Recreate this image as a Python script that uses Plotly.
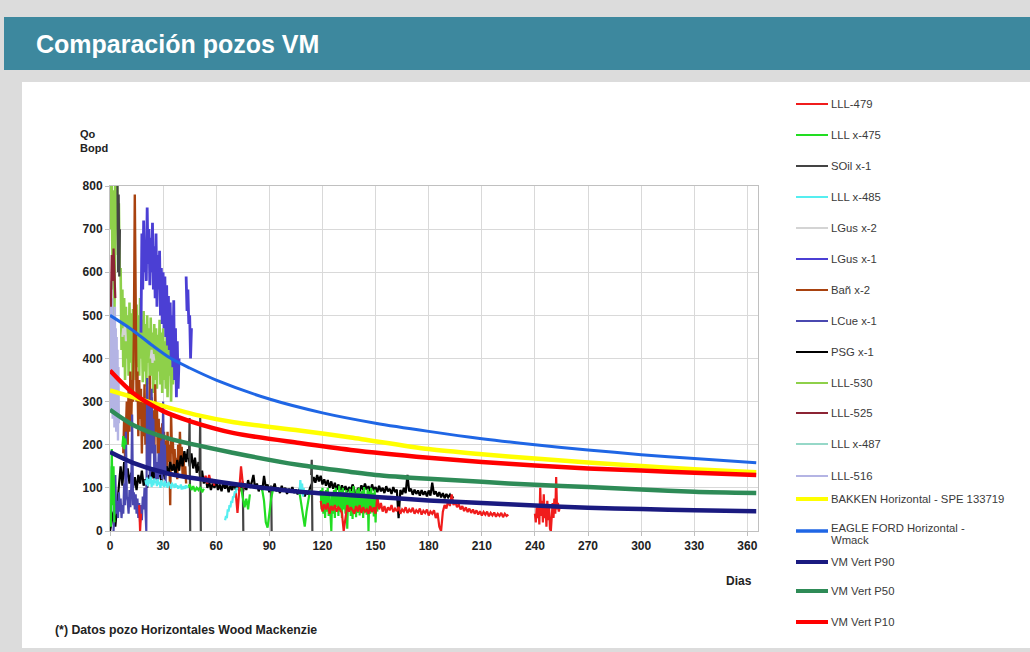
import plotly.graph_objects as go

W, H = 1030, 652
FONT = "Liberation Sans, Arial, sans-serif"

# ---------------- data ----------------
# smooth type curves (days, Qo bopd)
EAGLE_days = [0, 12, 24, 34, 45, 60, 90, 120, 150, 180, 210, 240, 270, 300, 330, 365]
EAGLE_q = [500, 468, 430, 401, 378, 350, 306, 274, 250, 231, 214, 200, 188, 177, 168, 158]
BAKKEN_days = [0, 30, 50, 70, 107, 136, 180, 210, 240, 270, 300, 330, 365]
BAKKEN_q = [326, 290, 268, 252, 233, 217, 190, 178, 168, 159, 151, 143, 136]
P10_days = [0, 13, 30, 45, 70, 107, 136, 180, 210, 240, 270, 300, 330, 365]
P10_q = [372, 320, 278, 255, 227, 204, 188, 170, 160, 152, 145, 140, 135, 130]
P50_days = [0, 13, 32, 70, 107, 136, 150, 180, 210, 240, 270, 300, 330, 365]
P50_q = [281, 246, 216, 181, 153, 137, 130, 121, 114, 107, 102, 96, 91, 88]
P90_days = [0, 13, 32, 70, 107, 136, 150, 180, 210, 240, 270, 300, 330, 365]
P90_q = [183, 158, 134, 109, 91, 83, 79, 71, 65, 59, 54, 51, 48, 46]

# well production records: segments of (first day, day step, daily Qo values)
LLL530_seg = [(0, 0.5, [820, 700, 820, 560, 790, 480, 810, 700, 820, 640, 760, 590, 610, 420, 560, 380,
                        540, 350, 520, 400, 500, 360, 530, 390, 505, 340, 515, 420, 470, 350, 525, 380,
                        500, 360, 540, 400, 490, 345, 510, 370, 480, 335, 500, 390, 470, 340, 495, 360,
                        460, 320, 480, 350, 470, 330, 455, 370, 490, 340, 460, 320, 470, 350, 440, 330,
                        455, 310, 430, 360, 440, 300, 420, 340, 380])]
LGUS2_seg = [(7, 0.5, [450, 470, 455, 480, 440]), (23, 0.5, [400, 420, 390, 410, 395])]
LLL516_seg = [(0, 0.25, [300, 560, 280, 580, 320, 540, 260, 500, 300, 480, 240, 520, 290, 470, 230,
                         450, 280, 420, 210, 380, 250])]
LLL525_seg = [(0.5, 0.5, [520, 640, 580, 655, 600, 540])]
LLL487_seg = [(0, 0.25, [0, 90, 20, 150, 60, 120, 30])]
BAN2_seg = [(7.5, 0.5, [180, 260, 170, 240, 300, 200, 330, 230, 370, 250, 350, 300, 460, 780, 470, 300,
                        370, 220, 350, 260, 330, 180, 300, 220, 340, 200, 280, 160, 300, 220, 360, 250,
                        310, 200, 280, 170, 340, 230, 290, 180, 260, 160, 240, 190, 250, 150, 230, 170,
                        210, 140, 230, 160, 200, 60, 270, 180, 210, 140, 190, 130, 170, 120, 200, 140,
                        230, 150, 195, 130, 180, 125, 150, 110])]
LGUS1_seg = [(17.5, 0.5, [460, 690, 560, 720, 600, 660, 580, 750, 620, 700, 570, 680, 600, 715, 560, 660,
                          540, 690, 520, 640, 560, 650, 500, 610, 480, 600, 470, 590, 450, 570, 430, 545,
                          420, 530, 400, 500, 380, 535, 350, 470, 310, 440, 330, 400]),
             (43, 0.5, [590, 510, 560, 480, 500, 400, 470])]
PSG1_seg = [(0, 1, [0, 20, 45, 10, 60, 120, 150, 105, 160, 120, 145, 110, 135, 100, 125, 95, 130, 110, 140,
                    105, 120, 100, 130, 115, 140, 120, 150, 125, 135, 115, 145, 120, 150, 130, 160, 140,
                    155, 130, 165, 140, 175, 150, 185, 160, 190, 150, 180, 145, 170, 135, 160, 120, 140,
                    110, 125, 100, 115, 95, 110, 100, 115, 95, 108, 92, 112, 98, 110, 90, 105, 95, 112,
                    96, 108, 92, 104, 88, 110, 95, 118, 100, 112, 130, 98, 110, 92, 106, 94, 128, 100,
                    108, 90, 104, 95, 110, 92, 100, 88, 105, 92, 100, 86, 98, 90, 102, 88, 96, 85, 98,
                    88, 95, 80, 92, 85, 100, 110, 125, 112, 130, 115, 128, 108, 120, 105, 118, 100, 115,
                    98, 112, 95, 108, 92, 106, 95, 104, 90, 102, 92, 108, 95, 65, 100, 92, 106, 95, 110,
                    96, 104, 90, 108, 94, 102, 90, 105, 92, 100, 88, 104, 92, 98, 86, 102, 90, 96, 30,
                    95, 85, 100, 88, 130, 92, 98, 84, 96, 86, 94, 82, 95, 84, 92, 80, 94, 82, 112, 85,
                    92, 80, 90, 78, 88, 76, 86, 78, 84, 76, 80])]
LCUE1_seg = [(2, 0.5, [0, 60, 130, 40, 70, 30, 90, 45, 75, 30, 60, 40, 110, 60, 230, 80, 70, 40, 95, 55,
                       100, 270, 60, 90, 50, 85, 40, 75, 30, 65, 20, 60, 25, 80, 50, 100, 30, 0, 355, 150,
                       300, 120, 220, 330, 180, 260, 140, 200, 120, 160, 110, 180, 130, 150, 210, 120,
                       300, 140, 200, 110])]
SOIL1_seg = [(4.2, 0.35, [820, 600, 780, 590, 700]),
             (44.6, 0.35, [170, 262, 0]), (50.6, 0.35, [150, 262, 0]),
             (74.7, 0.3, [110, 115, 0]), (90.7, 0.3, [100, 105, 0]), (113.6, 0.35, [130, 165, 0])]
LLL475_seg = [(0.5, 0.5, [10, 190, 60, 150, 20]),
              (7, 0.5, [195, 220, 190, 215, 200]),
              (44, 1, [100, 108, 95, 104, 92, 100, 95, 102, 90, 98]),
              (74, 1, [100, 80, 55, 75, 50, 85]),
              (86, 1, [95, 70, 20, 8, 40, 75, 95]),
              (107, 1, [90, 60, 30, 10, 45, 70, 95]),
              (119, 0.5, [95, 50, 100, 40, 90, 30, 95, 45, 100, 35, 85, 50, 0, 90, 40, 95, 30, 100, 55,
                          90, 35, 105, 45, 95, 30, 100, 50, 90, 40, 95, 5, 80, 45, 98, 35, 92, 28, 104,
                          48, 88, 32, 96, 42, 100, 36, 90, 50, 94, 30, 102, 44, 86, 38, 98, 0, 92, 40,
                          100, 46, 88, 34, 96, 20, 80, 45])]
LLL479_seg = [(16.5, 0.5, [60, 0, 40]),
              (53, 1, [115, 128, 110, 130, 112, 120, 105]),
              (71, 1, [90, 42, 95, 150, 110, 100]),
              (119, 1, [70, 45, 62, 50, 65, 40, 58, 48, 60, 45, 55, 50, 42, 0, 30, 60, 45, 55, 48, 40,
                        58, 45, 60, 42, 55, 45, 50, 40, 58, 44, 55, 40,
                        80, 50, 65, 45, 58, 42, 55, 48, 60, 44, 52, 46, 56, 40, 50, 45, 55, 42, 50, 44,
                        54, 40, 48, 43, 52, 38, 47, 42, 50, 36, 45, 40, 48, 30, 42, 10, 0, 45, 60, 52,
                        70, 58, 85, 60, 68, 55, 62, 50, 58, 46, 55, 44, 52, 42, 50, 40, 48, 38, 46, 36,
                        44, 38, 45, 34, 42, 36, 43, 33, 40, 35, 42, 32, 40, 35, 38]),
              (240, 0.5, [40, 20, 55, 30, 60, 15, 100, 35, 70, 20, 85, 30, 60, 10, 70, 25, 55, 5, 0, 45,
                          65, 30, 75, 40, 125, 50, 65, 45, 55])]
LLL485_seg = [(20, 0.5, [118, 108, 124, 104, 120, 110, 126, 102, 118, 106, 122, 112, 116, 104, 120, 108,
                         114, 100, 118, 106, 112, 102, 116, 104, 110, 100, 114, 106, 108, 98, 112, 104,
                         108, 100, 110, 102, 106, 98, 104, 100, 108, 96, 104, 100, 102, 98, 106, 100, 104]),
              (65, 0.5, [25, 35, 30, 50, 45, 60, 55, 70, 65, 80, 78, 92, 88, 100, 96]),
              (107, 0.5, [85, 118, 95, 110, 80, 100])]

# legend order / names / colours
names = ["LLL-479", "LLL x-475", "SOil x-1", "LLL x-485", "LGus x-2", "LGus x-1", "Bañ x-2",
         "LCue x-1", "PSG x-1", "LLL-530", "LLL-525", "LLL x-487", "LLL-516",
         "BAKKEN Horizontal - SPE 133719", "EAGLE FORD Horizontal -<br>Wmack",
         "VM Vert P90", "VM Vert P50", "VM Vert P10"]
colors = {"LLL-479": "#f01c1c", "LLL x-475": "#22dd22", "SOil x-1": "#444444", "LLL x-485": "#55eef0",
          "LGus x-2": "#d4d4d4", "LGus x-1": "#4b3fd4", "Bañ x-2": "#a8420f", "LCue x-1": "#4a48b0",
          "PSG x-1": "#000000", "LLL-530": "#8ed04a", "LLL-525": "#8c2434", "LLL x-487": "#96d8c8",
          "LLL-516": "#b4b4e4", "BAKKEN Horizontal - SPE 133719": "#ffff00",
          "EAGLE FORD Horizontal -<br>Wmack": "#1f66e5", "VM Vert P90": "#1a1a80",
          "VM Vert P50": "#2e8b57", "VM Vert P10": "#ff0000"}


def expand(segs):
    xs, ys = [], []
    for start, step, vals in segs:
        if xs:
            xs.append(None)
            ys.append(None)
        xs += [start + i * step for i in range(len(vals))]
        ys += vals
    return xs, ys


fig = go.Figure()

well_draw = [("LLL-530", LLL530_seg, 2.6), ("LGus x-2", LGUS2_seg, 2.2), ("LLL-516", LLL516_seg, 2.4),
             ("LLL-525", LLL525_seg, 2.2), ("LLL x-487", LLL487_seg, 2.2), ("Bañ x-2", BAN2_seg, 2.4),
             ("LGus x-1", LGUS1_seg, 2.8), ("PSG x-1", PSG1_seg, 2.2), ("LCue x-1", LCUE1_seg, 2.2),
             ("SOil x-1", SOIL1_seg, 2.2), ("LLL x-475", LLL475_seg, 2.2), ("LLL-479", LLL479_seg, 2.2),
             ("LLL x-485", LLL485_seg, 2.2)]
for nm, segs, w in well_draw:
    x, y = expand(segs)
    fig.add_trace(go.Scatter(x=x, y=y, mode="lines", name=nm, showlegend=False,
                             line=dict(color=colors[nm], width=w), connectgaps=False))

curve_draw = [("BAKKEN Horizontal - SPE 133719", BAKKEN_days, BAKKEN_q, 4.5),
              ("EAGLE FORD Horizontal -<br>Wmack", EAGLE_days, EAGLE_q, 3),
              ("VM Vert P90", P90_days, P90_q, 4.5),
              ("VM Vert P50", P50_days, P50_q, 4.5),
              ("VM Vert P10", P10_days, P10_q, 4.5)]
for nm, d, q, w in curve_draw:
    fig.add_trace(go.Scatter(x=d, y=q, mode="lines", name=nm, showlegend=False,
                             line=dict(color=colors[nm], width=w, shape="spline", smoothing=0.8)))


def px(x):
    return x / W


def py(y):
    return 1 - y / H


shapes = [
    dict(type="rect", xref="paper", yref="paper", x0=px(4), x1=px(1031), y0=py(70), y1=py(17),
         fillcolor="#3d889e", line=dict(width=0), layer="below"),
    dict(type="rect", xref="paper", yref="paper", x0=px(22), x1=px(1031), y0=py(648), y1=py(82),
         fillcolor="#ffffff", line=dict(width=0), layer="below"),
]
annotations = [
    dict(text="<b>Comparación pozos VM</b>", x=px(34), y=py(44), xref="paper", yref="paper",
         xanchor="left", yanchor="middle", showarrow=False,
         font=dict(family=FONT, size=25, color="#ffffff")),
    dict(text="<b>Qo<br>Bopd</b>", x=px(78), y=py(141), xref="paper", yref="paper",
         xanchor="left", yanchor="middle", showarrow=False, align="left",
         font=dict(family=FONT, size=11, color="#222222")),
    dict(text="<b>Dias</b>", x=px(739), y=py(581), xref="paper", yref="paper",
         xanchor="center", yanchor="middle", showarrow=False,
         font=dict(family=FONT, size=12, color="#222222")),
    dict(text="<b>(*) Datos pozo Horizontales Wood Mackenzie</b>", x=px(53), y=py(630),
         xref="paper", yref="paper", xanchor="left", yanchor="middle", showarrow=False,
         font=dict(family=FONT, size=12.3, color="#222222")),
]

# custom legend
leg_y = [104, 135, 166, 197, 228, 259, 290, 321, 352, 383, 413, 444, 476, 499, 531, 562, 591, 622]
thick = {"BAKKEN Horizontal - SPE 133719": 4, "EAGLE FORD Horizontal -<br>Wmack": 3.5,
         "VM Vert P90": 4, "VM Vert P50": 4, "VM Vert P10": 4}
for nm, yy in zip(names, leg_y):
    shapes.append(dict(type="line", xref="paper", yref="paper", x0=px(796), x1=px(828),
                       y0=py(yy), y1=py(yy),
                       line=dict(color=colors[nm], width=thick.get(nm, 2))))
    if "<br>" in nm:
        parts = nm.split("<br>")
        for k, part in enumerate(parts):
            annotations.append(dict(text=part, x=px(829), y=py(yy - 3 + 12 * k), xref="paper",
                                    yref="paper", xanchor="left", yanchor="middle", showarrow=False,
                                    font=dict(family=FONT, size=11.3, color="#3a3a3a")))
    else:
        annotations.append(dict(text=nm, x=px(829), y=py(yy), xref="paper", yref="paper",
                                xanchor="left", yanchor="middle", showarrow=False,
                                font=dict(family=FONT, size=11.3, color="#3a3a3a")))

fig.update_layout(
    width=W, height=H, margin=dict(l=0, r=0, t=0, b=0, pad=0), autosize=False,
    paper_bgcolor="#dcdcdc", plot_bgcolor="#ffffff",
    shapes=shapes, annotations=annotations, showlegend=False,
    xaxis=dict(domain=[px(110), px(758)], range=[0, 366], tickvals=list(range(0, 361, 30)),
               showgrid=True, gridcolor="#d9d9d9", gridwidth=1, zeroline=False, automargin=False,
               showline=True, linecolor="#c0c0c0", mirror=True, ticks="outside", ticklen=4,
               tickcolor="#c0c0c0",
               tickfont=dict(family=FONT, size=12, color="#222222", weight="bold")),
    yaxis=dict(domain=[py(531), py(186)], range=[0, 800], tickvals=list(range(0, 801, 100)),
               showgrid=True, gridcolor="#d9d9d9", gridwidth=1, zeroline=False, automargin=False,
               showline=True, linecolor="#c0c0c0", mirror=True, ticks="outside", ticklen=4,
               tickcolor="#c0c0c0",
               tickfont=dict(family=FONT, size=12, color="#222222", weight="bold")),
)

fig.write_html("out.html", config={"displayModeBar": False},
               post_script="document.body.style.margin='0';document.body.style.padding='0';")
